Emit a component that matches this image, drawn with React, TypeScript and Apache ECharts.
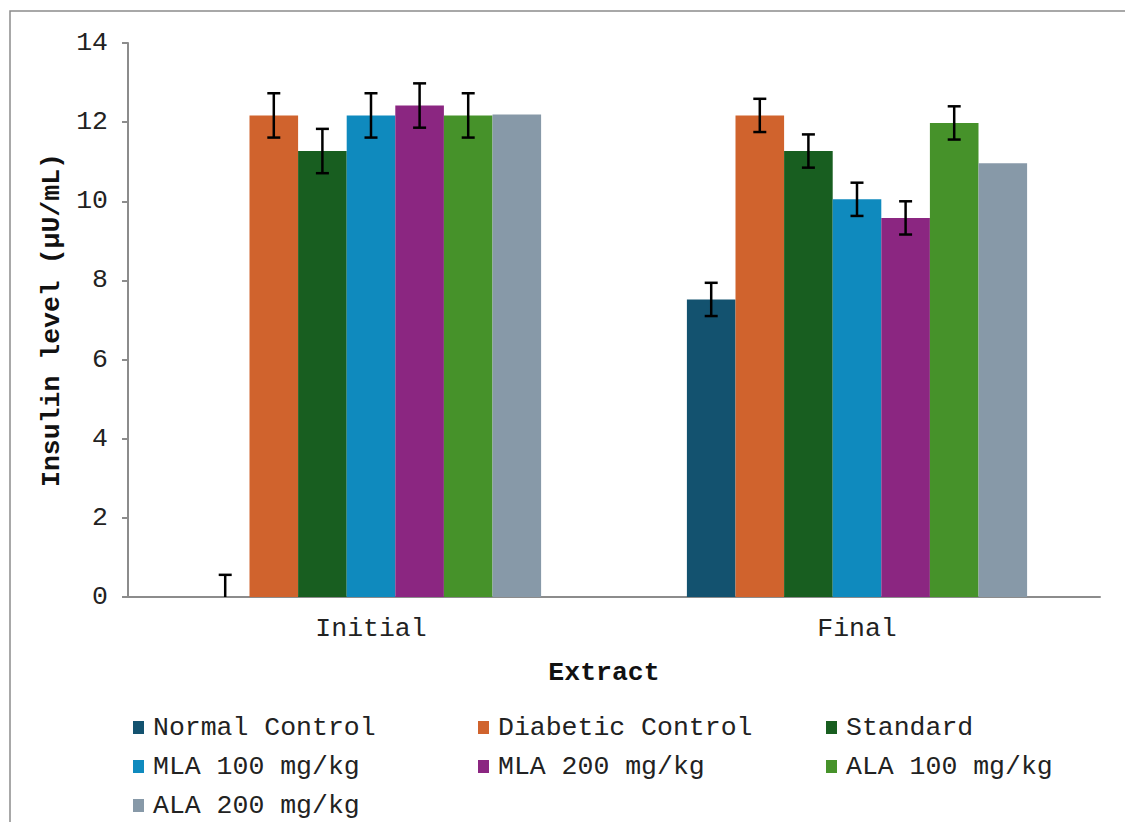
import React, { useEffect, useRef } from "react";
import * as echarts from "echarts";

const categories = ["Initial", "Final"];
const seriesNames = [
  "Normal Control",
  "Diabetic Control",
  "Standard",
  "MLA 100 mg/kg",
  "MLA 200 mg/kg",
  "ALA 100 mg/kg",
  "ALA 200 mg/kg",
];
const colors = ["#13526F", "#D0632D", "#185E20", "#0F8ABE", "#8B2681", "#46922A", "#8799A8"];
// values per series: [Initial, Final]
const normalControl = [0, 7.52];
const diabeticControl = [12.17, 12.17];
const standard = [11.27, 11.27];
const mla100 = [12.17, 10.05];
const mla200 = [12.42, 9.58];
const ala100 = [12.17, 11.98];
const ala200 = [12.19, 10.96];
const seriesValues = [normalControl, diabeticControl, standard, mla100, mla200, ala100, ala200];
// error (±) per series: [Initial, Final]; null = no error bar
const normalControlErr = [0.56, 0.42];
const diabeticControlErr = [0.56, 0.42];
const standardErr = [0.56, 0.42];
const mla100Err = [0.56, 0.42];
const mla200Err = [0.56, 0.42];
const ala100Err = [0.56, 0.42];
const ala200Err = [null, null];
const seriesErrs = [normalControlErr, diabeticControlErr, standardErr, mla100Err, mla200Err, ala100Err, ala200Err];
const yTicks = { min: 0, max: 14, interval: 2 };

const FONT = "'Liberation Mono', 'DejaVu Sans Mono', monospace";
const FS = 26.5;
const CAT_GAP = 0.3;

export default function App() {
  const ref = useRef<HTMLDivElement>(null);
  useEffect(() => {
    document.body.style.margin = "0";
    const chart = echarts.init(ref.current!, null, { renderer: "svg" });
    const nS = seriesNames.length;

    const errData: any[] = [];
    seriesValues.forEach((vals, si) => {
      vals.forEach((v, ci) => {
        const e = seriesErrs[si][ci];
        if (e != null) errData.push([ci, v, si, e]);
      });
    });

    const legendPos = [
      [133, 0],
      [478, 0],
      [826, 0],
      [133, 1],
      [478, 1],
      [826, 1],
      [133, 2],
    ];
    const rowTops = [714, 753, 792];

    const option: any = {
      animation: false,
      backgroundColor: "#ffffff",
      graphic: [
        {
          type: "rect",
          shape: { x: 10, y: 11, width: 1130, height: 830 },
          style: { fill: "none", stroke: "#8c8c8c", lineWidth: 1.5 },
          silent: true,
        },
      ],
      legend: seriesNames.map((name, i) => ({
        data: [name],
        left: legendPos[i][0],
        top: rowTops[legendPos[i][1]],
        padding: 0,
        icon: "rect",
        itemWidth: 11,
        itemHeight: 13,
        itemGap: 0,
        textStyle: { fontFamily: FONT, fontSize: FS, color: "#222", padding: [0, 0, 0, 4] },
        selectedMode: false,
      })),
      grid: { left: 128, right: 25, top: 43, bottom: 225, containLabel: false },
      xAxis: {
        type: "category",
        data: categories,
        name: "Extract",
        nameLocation: "middle",
        nameGap: 62,
        nameTextStyle: { fontFamily: FONT, fontSize: FS, fontWeight: "bold", color: "#111", padding: [0, 20, 0, 0] },
        axisLine: { lineStyle: { color: "#8c8c8c", width: 2 } },
        axisTick: { show: false },
        axisLabel: { fontFamily: FONT, fontSize: FS, color: "#222", margin: 18 },
      },
      yAxis: {
        type: "value",
        min: yTicks.min,
        max: yTicks.max,
        interval: yTicks.interval,
        name: "Insulin level (µU/mL)",
        nameLocation: "middle",
        nameGap: 62,
        nameTextStyle: { fontFamily: FONT, fontSize: FS, fontWeight: "bold", color: "#111" },
        axisLine: { show: true, lineStyle: { color: "#8c8c8c", width: 2 } },
        axisTick: { show: true, length: 6, lineStyle: { color: "#8c8c8c", width: 2 } },
        splitLine: { show: false },
        axisLabel: { fontFamily: FONT, fontSize: FS, color: "#222", margin: 20 },
      },
      series: [
        ...seriesNames.map((name, i) => ({
          name,
          type: "bar",
          data: seriesValues[i],
          barGap: "0%",
          barCategoryGap: CAT_GAP * 100 + "%",
          itemStyle: { color: colors[i] },
        })),
        {
          type: "custom",
          name: "errors",
          data: errData,
          encode: { x: 0, y: 1 },
          z: 10,
          renderItem: (params: any, api: any) => {
            const ci = api.value(0);
            const v = api.value(1);
            const si = api.value(2);
            const e = api.value(3);
            const band = api.size([1, 0])[0];
            const bw = (band * (1 - CAT_GAP)) / nS;
            const cx = api.coord([ci, 0])[0] - (band * (1 - CAT_GAP)) / 2 + bw * (si + 0.5);
            const lo = Math.max(0, v - e);
            const yTop = api.coord([ci, v + e])[1];
            const yBot = api.coord([ci, lo])[1];
            const cap = 6.5;
            const st = { stroke: "#000", lineWidth: 2.5 };
            const children: any[] = [
              { type: "line", shape: { x1: cx, y1: yTop, x2: cx, y2: yBot }, style: st },
              { type: "line", shape: { x1: cx - cap, y1: yTop, x2: cx + cap, y2: yTop }, style: st },
            ];
            if (v - e >= 0) {
              children.push({ type: "line", shape: { x1: cx - cap, y1: yBot, x2: cx + cap, y2: yBot }, style: st });
            }
            return { type: "group", children };
          },
        },
      ],
    };
    chart.setOption(option);
    return () => chart.dispose();
  }, []);
  return <div ref={ref} style={{ width: 1125, height: 822 }} />;
}
